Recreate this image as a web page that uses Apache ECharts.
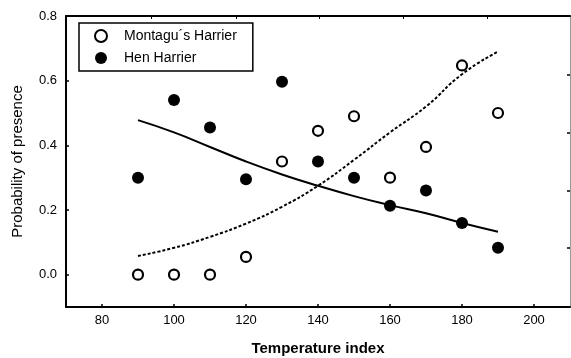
<!DOCTYPE html>
<html>
<head>
<meta charset="utf-8">
<script src="https://cdn.jsdelivr.net/npm/echarts@6/dist/echarts.min.js"></script>
<style>
  html, body { margin: 0; padding: 0; background: #fff; }
  #chart { width: 571px; height: 358px; }
</style>
</head>
<body>
<div id="chart"></div>
<script>
// temperature index values
const temps = [90, 100, 110, 120, 130, 140, 150, 160, 170, 180, 190];

// observed proportions
const montagu = [0, 0, 0, 0.055, 0.35, 0.445, 0.49, 0.30, 0.395, 0.647, 0.50];
const hen = [0.30, 0.54, 0.455, 0.295, 0.597, 0.35, 0.30, 0.213, 0.26, 0.16, 0.083];

// fitted curves
const montaguFit = [0.058, 0.083, 0.117, 0.158, 0.21, 0.275, 0.355, 0.44, 0.52, 0.62, 0.69];
const henFit = [0.478, 0.44, 0.395, 0.35, 0.31, 0.275, 0.243, 0.215, 0.19, 0.16, 0.133];

const xTicks = [80, 100, 120, 140, 160, 180, 200];
const yTicks = [0, 0.2, 0.4, 0.6, 0.8];
const topTicks = [93.6, 117.2, 140.3, 163.6, 186.9];
const rightTicks = [0.083, 0.26, 0.439, 0.618];

const pairs = (xs, ys) => xs.map((x, i) => [x, ys[i]]);

const font = "Liberation Sans, Arial, sans-serif";

const myChart = echarts.init(document.getElementById("chart"));
myChart.setOption({
  animation: false,
  textStyle: { fontFamily: font, color: "#000" },
  grid: { left: 66, right: 1, top: 16, bottom: 51, containLabel: false, outerBoundsMode: "none" },
  legend: {
    orient: "vertical",
    left: 79,
    top: 23,
    data: ["Montagu´s Harrier", "Hen Harrier"],
    itemWidth: 12,
    itemHeight: 12,
    itemGap: 8,
    padding: [6, 16, 6, 15],
    borderColor: "#000",
    borderWidth: 1.5,
    borderRadius: 0,
    textStyle: { fontSize: 14, fontFamily: font, color: "#000", padding: [0, 0, 0, 12] },
  },
  xAxis: [
    {
      type: "value",
      min: 70,
      max: 210,
      name: "Temperature index",
      nameLocation: "middle",
      nameGap: 34,
      nameTextStyle: { fontSize: 15, fontWeight: "bold", color: "#000" },
      axisLine: { onZero: false, lineStyle: { color: "#000", width: 2 } },
      axisTick: { inside: true, length: 3, customValues: xTicks, lineStyle: { color: "#000", width: 1.5 } },
      axisLabel: { customValues: xTicks, fontSize: 13, color: "#000", margin: 7 },
      splitLine: { show: false },
    },
    {
      type: "value",
      position: "top",
      min: 70,
      max: 210,
      axisLine: { onZero: false, lineStyle: { color: "#000", width: 2 } },
      axisTick: { inside: true, length: 3, customValues: topTicks, lineStyle: { color: "#000" } },
      axisLabel: { show: false },
      splitLine: { show: false },
    },
  ],
  yAxis: [
    {
      type: "value",
      min: -0.1,
      max: 0.8,
      name: "Probability of presence",
      nameLocation: "middle",
      nameGap: 41,
      nameTextStyle: { fontSize: 15, color: "#000" },
      axisLine: { onZero: false, lineStyle: { color: "#000", width: 2 } },
      axisTick: { inside: true, length: 3, customValues: yTicks, lineStyle: { color: "#000", width: 1.5 } },
      axisLabel: {
        customValues: yTicks,
        fontSize: 13,
        color: "#000",
        margin: 9,
        formatter: (v) => v.toFixed(1),
      },
      splitLine: { show: false },
    },
    {
      type: "value",
      position: "right",
      min: -0.1,
      max: 0.8,
      axisLine: { onZero: false, lineStyle: { color: "#999", width: 1 } },
      axisTick: { inside: true, length: 3, customValues: rightTicks, lineStyle: { color: "#000", width: 1.5 } },
      axisLabel: { show: false },
      splitLine: { show: false },
    },
  ],
  series: [
    {
      name: "Montagu´s Harrier fit",
      type: "line",
      data: pairs(temps, montaguFit),
      smooth: true,
      showSymbol: false,
      lineStyle: { color: "#000", width: 2, type: [3, 2] },
      z: 2,
    },
    {
      name: "Hen Harrier fit",
      type: "line",
      data: pairs(temps, henFit),
      smooth: true,
      showSymbol: false,
      lineStyle: { color: "#000", width: 2 },
      z: 2,
    },
    {
      name: "Montagu´s Harrier",
      type: "scatter",
      data: pairs(temps, montagu),
      symbol: "circle",
      symbolSize: 10,
      itemStyle: { color: "#fff", borderColor: "#000", borderWidth: 2.2, opacity: 1 },
      z: 3,
    },
    {
      name: "Hen Harrier",
      type: "scatter",
      data: pairs(temps, hen),
      symbol: "circle",
      symbolSize: 12,
      itemStyle: { color: "#000", opacity: 1 },
      z: 3,
    },
  ],
});
</script>
</body>
</html>
